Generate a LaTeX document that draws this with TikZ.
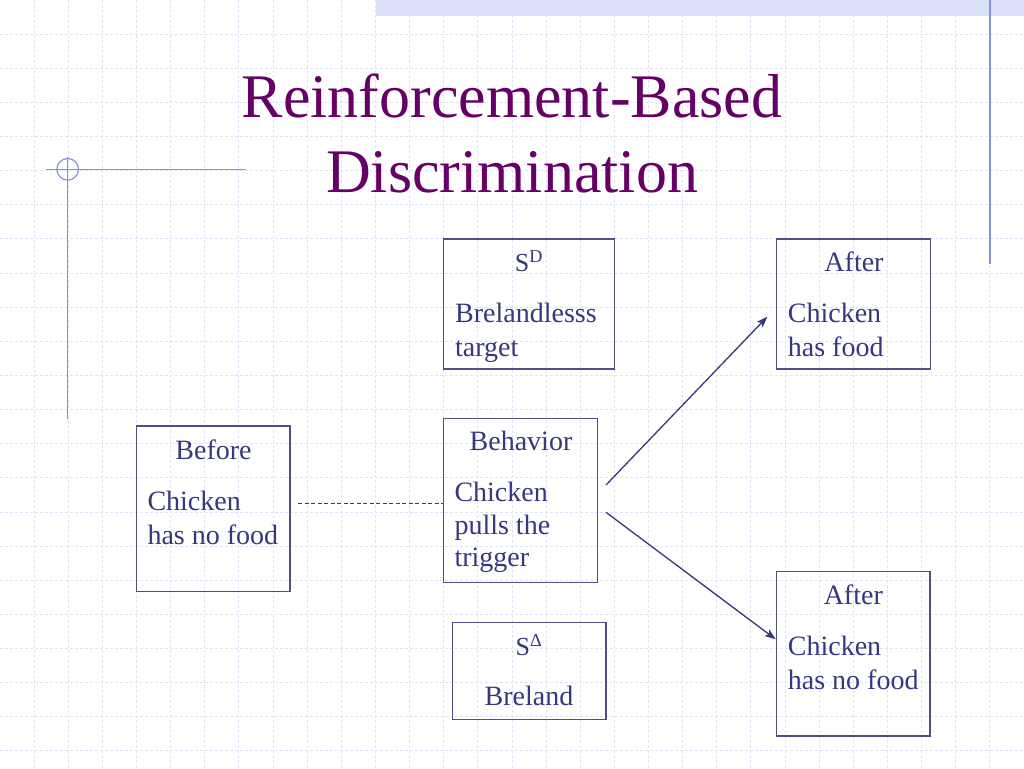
\documentclass[tikz,border=0pt]{standalone}
\usepackage{fontspec}
\setmainfont{Liberation Serif}
\usetikzlibrary{arrows.meta,calc}
\definecolor{inkblue}{RGB}{55,55,125}
\definecolor{boxline}{RGB}{80,80,135}
\definecolor{titlepurple}{RGB}{102,0,102}
\definecolor{gridcol}{RGB}{224,227,247}
\definecolor{bandcol}{RGB}{218,225,248}
\definecolor{decoblue}{RGB}{135,145,222}
\tikzset{
  gridline/.style={draw=gridcol, line width=1pt, dash pattern=on 3pt off 2pt},
  decoline/.style={draw=decoblue, line width=1.2pt},
  boxnode/.style={draw=boxline, line width=1.2pt, rectangle, inner sep=0pt},
  bodytext/.style={text=inkblue, inner sep=0pt, font=\fontsize{28}{34}\selectfont},
  titletext/.style={text=titlepurple, inner sep=0pt, anchor=base, font=\fontsize{62}{75}\selectfont},
  linkarrow/.style={draw=inkblue, line width=1.3pt, -{Stealth[length=11pt,width=8pt,inset=2.5pt]}},
  linkdash/.style={draw=inkblue, line width=1pt, dash pattern=on 4pt off 2.5pt}
}
\begin{document}
\begin{tikzpicture}[x=1pt,y=-1pt]
\useasboundingbox (0,0) rectangle (1024,768);
\fill[white] (0,0) rectangle (1024,768);
% grid paper
\foreach \i in {1,...,29} \draw[gridline] (\i*34.133,0) -- (\i*34.133,768);
\foreach \j in {1,...,22} \draw[gridline] (0,\j*34.133) -- (1024,\j*34.133);
% top band
\fill[bandcol] (376,0) rectangle (1024,16);
% decorative lines
\draw[decoline] (990,0) -- (990,264);
\draw[decoline] (46,169.3) -- (246,169.3);
\draw[decoline] (67.7,157) -- (67.7,419);
\draw[decoline] (67.7,169.3) circle[radius=10.8];
% title
\node[titletext] (title1) at (512,117.3) {Reinforcement-Based};
\node[titletext] (title2) at (512,192.7) {Discrimination};
% boxes
\node[boxnode, minimum width=170.8pt, minimum height=130pt] (sd) at (528.9,304) {};
\node[boxnode, minimum width=153.8pt, minimum height=130pt] (aft1) at (853.6,304) {};
\node[boxnode, minimum width=153.3pt, minimum height=165.7pt] (before) at (213.35,508.85) {};
\node[boxnode, minimum width=154pt, minimum height=164.4pt] (beh) at (520.3,500.5) {};
\node[boxnode, minimum width=153.7pt, minimum height=96.6pt] (sdelta) at (529.15,671) {};
\node[boxnode, minimum width=153.3pt, minimum height=164.3pt] (aft2) at (853.35,653.85) {};
% box texts
\node[bodytext, anchor=base, font=\fontsize{26}{30}\selectfont] (sdT) at (529,271.7) {S\textsuperscript{D}};
\node[bodytext, anchor=base west] (sdB) at (455,322.7) {\vtop{\hbox{Brelandlesss}\hbox{target}}};
\node[bodytext, anchor=base] (aft1T) at (854,271.7) {After};
\node[bodytext, anchor=base west] (aft1B) at (787.7,322.7) {\vtop{\hbox{Chicken}\hbox{has food}}};
\node[bodytext, anchor=base] (befT) at (213.5,459.3) {Before};
\node[bodytext, anchor=base west] (befB) at (147.3,510) {\vtop{\hbox{Chicken}\hbox{has no food}}};
\node[bodytext, anchor=base] (behT) at (521,450.7) {Behavior};
\node[bodytext, anchor=base west, font=\fontsize{28}{32.3}\selectfont] (behB) at (454.3,501.7) {\vtop{\hbox{Chicken}\hbox{pulls the}\hbox{trigger}}};
\node[bodytext, anchor=base, font=\fontsize{26}{30}\selectfont] (sdlT) at (529,655.7) {S\textsuperscript{Δ}};
\node[bodytext, anchor=base] (sdlB) at (529,705.7) {Breland};
\node[bodytext, anchor=base] (aft2T) at (853.3,604.3) {After};
\node[bodytext, anchor=base west] (aft2B) at (787.7,655) {\vtop{\hbox{Chicken}\hbox{has no food}}};
% connectors
\coordinate (dashstart) at (298,503.3);
\draw[linkdash] (dashstart) -- (dashstart -| beh.west);
\coordinate (up1) at (606,485);
\coordinate (up2) at (767.3,316.7);
\coordinate (dn1) at (606,512.3);
\coordinate (dn2) at (775.7,639.3);
\draw[linkarrow] (up1) -- (up2);
\draw[linkarrow] (dn1) -- (dn2);
\end{tikzpicture}
\end{document}
